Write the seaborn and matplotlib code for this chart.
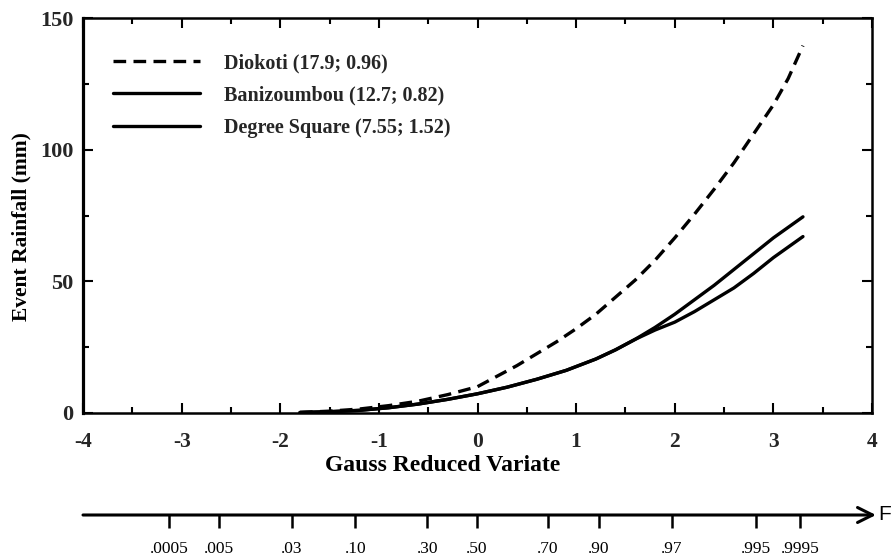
import numpy as np
import pandas as pd
import matplotlib
matplotlib.use("Agg")
import matplotlib.pyplot as plt
import seaborn as sns
from matplotlib.ticker import MultipleLocator

# ---- data ----
series_names = ["Diokoti (17.9; 0.96)", "Banizoumbou (12.7; 0.82)", "Degree Square (7.55; 1.52)"]

gauss_dio = [-1.8, -1.5, -1.2, -0.9, -0.6, -0.3, 0.0, 0.2, 0.4, 0.6, 0.8, 1.0, 1.2, 1.4,
             1.6, 1.8, 2.0, 2.2, 2.4, 2.6, 2.8, 3.0, 3.15, 3.3]
rain_dio = [0.2, 0.7, 1.5, 2.8, 4.5, 7.0, 10.0, 14.0, 18.0, 22.5, 27.0, 32.0, 37.5, 44.0,
            50.5, 58.0, 66.5, 75.5, 85.0, 95.0, 106.0, 117.0, 127.0, 139.5]

gauss_ban = [-1.8, -1.5, -1.2, -0.9, -0.6, -0.3, 0.0, 0.3, 0.6, 0.9, 1.2, 1.4, 1.6, 1.8,
             2.0, 2.2, 2.4, 2.6, 2.8, 3.0, 3.3]
rain_ban = [0.2, 0.5, 1.0, 2.0, 3.4, 5.2, 7.3, 9.8, 12.8, 16.2, 20.5, 24.0, 28.0, 32.5,
            37.5, 43.0, 48.5, 54.5, 60.5, 66.5, 74.5]

gauss_deg = [-1.8, -1.5, -1.2, -0.9, -0.6, -0.3, 0.0, 0.3, 0.6, 0.9, 1.2, 1.4, 1.6, 1.8,
             2.0, 2.2, 2.4, 2.6, 2.8, 3.0, 3.3]
rain_deg = [0.2, 0.5, 1.0, 2.0, 3.4, 5.2, 7.3, 9.8, 12.8, 16.2, 20.5, 24.0, 28.0, 31.5,
            34.5, 38.5, 43.0, 47.5, 53.0, 59.0, 67.0]

prob_labels = [".0005", ".005", ".03", ".10", ".30", ".50", ".70", ".90", ".97", ".995", ".9995"]
prob_pos = [-3.13, -2.62, -1.88, -1.24, -0.51, -0.01, 0.71, 1.23, 1.97, 2.82, 3.27]

x_ticks = [-4, -3, -2, -1, 0, 1, 2, 3, 4]
y_ticks = [0, 50, 100, 150]

df = pd.concat([
    pd.DataFrame({"g": gauss_dio, "r": rain_dio, "s": series_names[0]}),
    pd.DataFrame({"g": gauss_ban, "r": rain_ban, "s": series_names[1]}),
    pd.DataFrame({"g": gauss_deg, "r": rain_deg, "s": series_names[2]}),
], ignore_index=True)

sns.set_theme(style="ticks")
plt.rcParams['font.family'] = ['Liberation Serif', 'DejaVu Serif']

W, H = 893, 559
fig = plt.figure(figsize=(W / 100, H / 100), dpi=100)
L, R, T, B = 83, 872, 18, 413
ax = fig.add_axes([L / W, 1 - B / H, (R - L) / W, (B - T) / H])

sns.lineplot(data=df, x="g", y="r", hue="s", style="s",
             hue_order=series_names, style_order=series_names,
             palette=["black"] * 3,
             dashes={series_names[0]: (3.8, 2.2), series_names[1]: "", series_names[2]: ""},
             linewidth=2.4, estimator=None, sort=False, legend=False, ax=ax)

ax.set_xlim(-4, 4)
ax.set_ylim(0, 150)
ax.set_xticks(x_ticks)
ax.set_xticklabels([str(v) for v in x_ticks])
ax.set_yticks(y_ticks)
ax.set_yticklabels([str(v) for v in y_ticks])
ax.xaxis.set_minor_locator(MultipleLocator(0.5))
ax.yaxis.set_minor_locator(MultipleLocator(25))
ax.tick_params(which='both', direction='in', top=True, right=True, width=1.5, color='black')
ax.tick_params(which='major', length=7)
ax.tick_params(which='minor', length=4.5)
ax.tick_params(axis='x', which='major', pad=14, labelsize=15.5)
ax.tick_params(axis='y', which='major', pad=7, labelsize=16)
for lab in ax.get_xticklabels() + ax.get_yticklabels():
    lab.set_fontweight('bold')
for side in ['top', 'right', 'bottom']:
    ax.spines[side].set_linewidth(1.8)
    ax.spines[side].set_color('black')
ax.spines['left'].set_linewidth(2.3)
ax.spines['left'].set_color('black')

ax.set_xlabel("Gauss Reduced Variate", fontsize=17, fontweight='bold', color='black')
ax.xaxis.set_label_coords((442.5 - L) / (R - L), (B - 455) / (B - T))
ax.set_ylabel("Event Rainfall (mm)", fontsize=15.5, fontweight='bold', color='black')
ax.yaxis.set_label_coords((31 - L) / (R - L), (B - 227) / (B - T))

handles = ax.get_lines()[:3]
leg = ax.legend(handles, series_names, loc='upper left',
                bbox_to_anchor=((113 - L) / (R - L), (B - 53) / (B - T)),
                frameon=False, borderaxespad=0, borderpad=0,
                handlelength=4.3, handletextpad=1.2, labelspacing=0.62,
                prop={'family': 'Liberation Serif', 'weight': 'bold', 'size': 14.5})

# ---- probability (F) axis below ----
ay = 515
ax2 = fig.add_axes([L / W, 1 - ay / H, (R - L) / W, 0.001])
ax2.set_xlim(-4, 4)
ax2.set_ylim(0, 1)
for s in ax2.spines.values():
    s.set_visible(False)
ax2.patch.set_visible(False)
ax2.set_yticks([])
ax2.set_xticks(prob_pos)
ax2.set_xticklabels(prob_labels)
ax2.tick_params(axis='x', direction='out', length=9, width=1.8, pad=10,
                labelsize=12.5, color='black', labelcolor='black')
ax2.annotate("", xy=(4.04, 0), xytext=(-4, 0), xycoords=('data', 'axes fraction'),
             textcoords=('data', 'axes fraction'),
             arrowprops=dict(arrowstyle='->, head_length=0.9, head_width=0.45',
                             lw=2.2, color='black', shrinkA=0, shrinkB=0),
             annotation_clip=False)
fig.text(878 / W, 1 - ay / H, "F", ha='left', va='center',
         family=['Liberation Sans', 'DejaVu Sans'], fontsize=15, color='black')

fig.savefig("out.png", dpi=100, facecolor='white')
